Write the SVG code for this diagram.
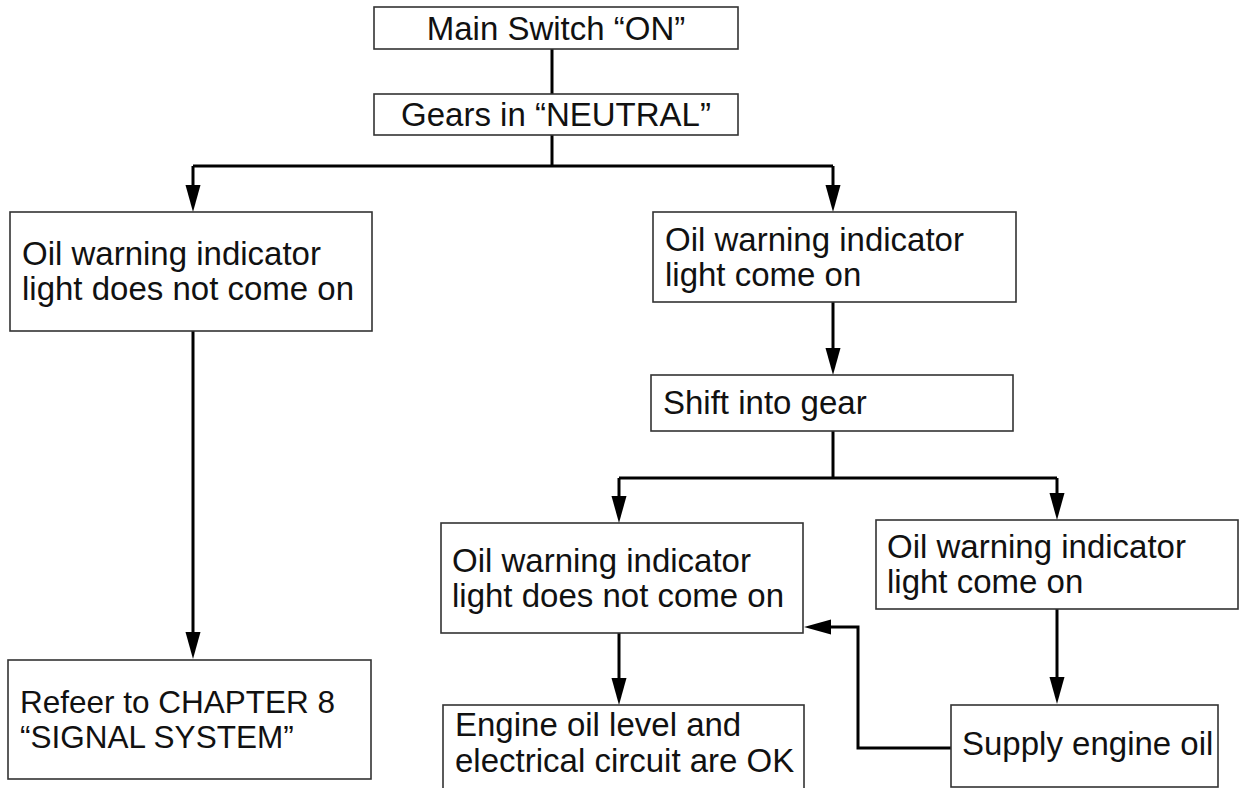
<svg xmlns="http://www.w3.org/2000/svg" width="1239" height="788" viewBox="0 0 1239 788">
<defs>
<style>
.box{fill:#fff;stroke:#333;stroke-width:1.6}
.t{font-family:"Liberation Sans",Arial,Helvetica,sans-serif;font-size:33px;fill:#111}
.s{font-size:31.5px}
.c{fill:none;stroke:#000;stroke-width:3}
</style>
<marker id="ah" markerUnits="userSpaceOnUse" markerWidth="28" markerHeight="16" refX="16" refY="7.5" orient="auto">
<path d="M0,0 L27,7.5 L0,15 z" fill="#000"/>
</marker>
</defs>
<rect width="1239" height="788" fill="#fff"/>
<g id="connectors">
<path class="c" d="M552,49 V94"/>
<path class="c" d="M552,135 V166"/>
<path class="c" d="M193,166 H833"/>
<path class="c" d="M193,166 V201" marker-end="url(#ah)"/>
<path class="c" d="M833,166 V201" marker-end="url(#ah)"/>
<path class="c" d="M193,331 V648" marker-end="url(#ah)"/>
<path class="c" d="M833,302 V364" marker-end="url(#ah)"/>
<path class="c" d="M833,431 V478"/>
<path class="c" d="M619,478 H1057"/>
<path class="c" d="M619,478 V512" marker-end="url(#ah)"/>
<path class="c" d="M1057,478 V509" marker-end="url(#ah)"/>
<path class="c" d="M619,633 V694" marker-end="url(#ah)"/>
<path class="c" d="M1057,609 V693" marker-end="url(#ah)"/>
<path class="c" d="M951,748 H858 V627 H815" marker-end="url(#ah)"/>
</g>
<g id="n-main">
<rect class="box" x="374" y="7" width="364" height="42"/>
<text class="t" x="556" y="40" text-anchor="middle">Main Switch “ON”</text>
</g>
<g id="n-neutral">
<rect class="box" x="374" y="94" width="364" height="41"/>
<text class="t" x="556" y="126" text-anchor="middle">Gears in “NEUTRAL”</text>
</g>
<g id="n-left-off">
<rect class="box" x="10" y="212" width="362" height="119"/>
<text class="t" x="22" y="265">Oil warning indicator</text>
<text class="t" x="22" y="300">light does not come on</text>
</g>
<g id="n-right-on">
<rect class="box" x="653" y="212" width="363" height="90"/>
<text class="t" x="665" y="251">Oil warning indicator</text>
<text class="t" x="665" y="286">light come on</text>
</g>
<g id="n-shift">
<rect class="box" x="651" y="375" width="362" height="56"/>
<text class="t" x="663" y="414">Shift into gear</text>
</g>
<g id="n-gear-off">
<rect class="box" x="441" y="523" width="362" height="110"/>
<text class="t" x="452" y="572">Oil warning indicator</text>
<text class="t" x="452" y="607">light does not come on</text>
</g>
<g id="n-gear-on">
<rect class="box" x="876" y="520" width="362" height="89"/>
<text class="t" x="887" y="558">Oil warning indicator</text>
<text class="t" x="887" y="593">light come on</text>
</g>
<g id="n-chapter">
<rect class="box" x="8" y="660" width="363" height="119"/>
<text class="t s" x="20" y="713">Refeer to CHAPTER 8</text>
<text class="t s" x="20" y="748">“SIGNAL SYSTEM”</text>
</g>
<g id="n-ok">
<rect class="box" x="443" y="705" width="361" height="100"/>
<text class="t" x="455" y="736">Engine oil level and</text>
<text class="t" x="455" y="772">electrical circuit are OK</text>
</g>
<g id="n-supply">
<rect class="box" x="951" y="705" width="267" height="82"/>
<text class="t" x="962" y="755">Supply engine oil</text>
</g>
</svg>
